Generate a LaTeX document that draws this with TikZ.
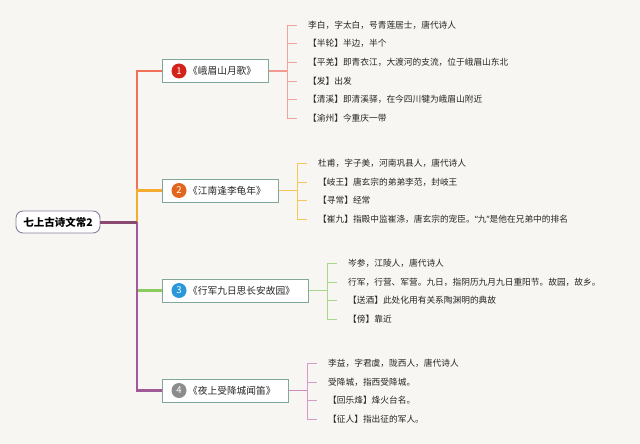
\documentclass[tikz,border=0pt]{standalone}
\usepackage{fontspec}
\newfontfamily\cjk{Noto Sans CJK SC}
\newfontfamily\latq{Noto Sans}
\definecolor{bgc}{HTML}{F7F6F2}
\definecolor{txt}{HTML}{262626}
\definecolor{rootborder}{HTML}{8A7F9C}
\definecolor{boxborder}{HTML}{7FA898}
\definecolor{rootline}{HTML}{8A4A72}
\definecolor{tr1}{HTML}{F0705A}
\definecolor{tr2}{HTML}{F5AA30}
\definecolor{tr3}{HTML}{8CCB5E}
\definecolor{tr4}{HTML}{A05A98}
\definecolor{lf1}{HTML}{F2A49C}
\definecolor{lf2}{HTML}{F5C65A}
\definecolor{lf3}{HTML}{A8D88C}
\definecolor{lf4}{HTML}{D49AC8}
\definecolor{n1}{HTML}{D3231A}
\definecolor{n2}{HTML}{E2651C}
\definecolor{n3}{HTML}{2A97DB}
\definecolor{n4}{HTML}{8C8C8C}
\tikzset{
  rootbox/.style={draw=rootborder, fill=white, rounded corners=7pt, line width=0.9pt,
    minimum width=84pt, minimum height=22pt, inner sep=0pt,
    font=\cjk\bfseries\fontsize{10.5}{12}\selectfont, text=black},
  bbox/.style={draw=boxborder, fill=white, line width=1pt, minimum height=23pt,
    anchor=west, inner sep=0pt},
  numc/.style={circle, inner sep=0pt, minimum size=15pt, text=white,
    font=\cjk\fontsize{9.5}{10}\selectfont},
  btitle/.style={anchor=west, inner sep=0pt, font=\cjk\fontsize{9.7}{11}\selectfont, text=txt},
  leaf/.style={anchor=west, inner xsep=11pt, inner ysep=0pt,
    font=\cjk\fontsize{8.7}{10}\selectfont, text=txt},
  trunk/.style={line width=2.5pt},
  stem/.style={line width=1.6pt},
  twig/.style={line width=0.9pt}
}
\begin{document}
\begin{tikzpicture}[x=1pt,y=-1pt]
\fill[bgc] (0,0) rectangle (640,444);
\useasboundingbox (0,0) rectangle (640,444);

% root
\node[rootbox] (root) at (58,222) {七上古诗文常2};
\coordinate (rj) at (137,222);

% branch boxes
\node[bbox, minimum width=106pt] (b1) at (162,71) {};
\node[bbox, minimum width=116pt] (b2) at (162,190.5) {};
\node[bbox, minimum width=146pt] (b3) at (162,290.5) {};
\node[bbox, minimum width=126pt] (b4) at (162,390.5) {};

% trunk
\draw[trunk, tr1] (rj) |- (b1.west);
\draw[trunk, tr2] (rj) |- (b2.west);
\draw[trunk, tr3] (rj) |- (b3.west);
\draw[trunk, tr4] (rj) |- (b4.west);
\draw[line width=3pt, rootline] (root.east) -- (rj);

% numbers and titles
\node[numc, fill=n1] (c1) at ([xshift=17pt]b1.west) {1};
\node[btitle] (t1) at ([xshift=26pt]b1.west) {《峨眉山月歌》};
\node[numc, fill=n2] (c2) at ([xshift=17pt]b2.west) {2};
\node[btitle] (t2) at ([xshift=26pt]b2.west) {《江南逢李龟年》};
\node[numc, fill=n3] (c3) at ([xshift=17pt]b3.west) {3};
\node[btitle] (t3) at ([xshift=26pt]b3.west) {《行军九日思长安故园》};
\node[numc, fill=n4] (c4) at ([xshift=17pt]b4.west) {4};
\node[btitle] (t4) at ([xshift=26pt]b4.west) {《夜上受降城闻笛》};

% branch 1 leaves
\coordinate (j1) at (287,71);
\node[leaf] (l11) at (297,25) {李白，字太白，号青莲居士，唐代诗人};
\node[leaf] (l12) at (297,43.5) {【半轮】半边，半个};
\node[leaf] (l13) at (297,62) {【平羌】即青衣江，大渡河的支流，位于峨眉山东北};
\node[leaf] (l14) at (297,81) {【发】出发};
\node[leaf] (l15) at (297,99.5) {【清溪】即清溪驿，在今四川犍为峨眉山附近};
\node[leaf] (l16) at (297,118) {【渝州】今重庆一带};
\draw[stem, lf1!80!tr1] (b1.east) -- (j1);
\foreach \n in {l11,l12,l13,l14,l15,l16} \draw[twig, lf1] (j1) |- (\n.west);

% branch 2 leaves
\coordinate (j2) at (297,190.5);
\node[leaf] (l21) at (307,163) {杜甫，字子美，河南巩县人，唐代诗人};
\node[leaf] (l22) at (307,182) {【岐王】唐玄宗的弟弟李范，封岐王};
\node[leaf] (l23) at (307,200.5) {【寻常】经常};
\node[leaf] (l24) at (307,219) {【崔九】指殿中监崔涤，唐玄宗的宠臣。{\latq “}九{\latq ”}是他在兄弟中的排名};
\draw[stem, lf2] (b2.east) -- (j2);
\foreach \n in {l21,l22,l23,l24} \draw[twig, lf2] (j2) |- (\n.west);

% branch 3 leaves
\coordinate (j3) at (327,290.5);
\node[leaf] (l31) at (337,263) {岑参，江陵人，唐代诗人};
\node[leaf] (l32) at (337,282) {行军，行营、军营。九日，指阴历九月九日重阳节。故园，故乡。};
\node[leaf] (l33) at (337,300.5) {【送酒】此处化用有关系陶渊明的典故};
\node[leaf] (l34) at (337,319) {【傍】靠近};
\draw[stem, lf3] (b3.east) -- (j3);
\foreach \n in {l31,l32,l33,l34} \draw[twig, lf3] (j3) |- (\n.west);

% branch 4 leaves
\coordinate (j4) at (307,390.5);
\node[leaf] (l41) at (317,363) {李益，字君虞，陇西人，唐代诗人};
\node[leaf] (l42) at (317,382) {受降城，指西受降城。};
\node[leaf] (l43) at (317,400.5) {【回乐烽】烽火台名。};
\node[leaf] (l44) at (317,419) {【征人】指出征的军人。};
\draw[stem, lf4!80!tr4] (b4.east) -- (j4);
\foreach \n in {l41,l42,l43,l44} \draw[twig, lf4] (j4) |- (\n.west);
\end{tikzpicture}
\end{document}
